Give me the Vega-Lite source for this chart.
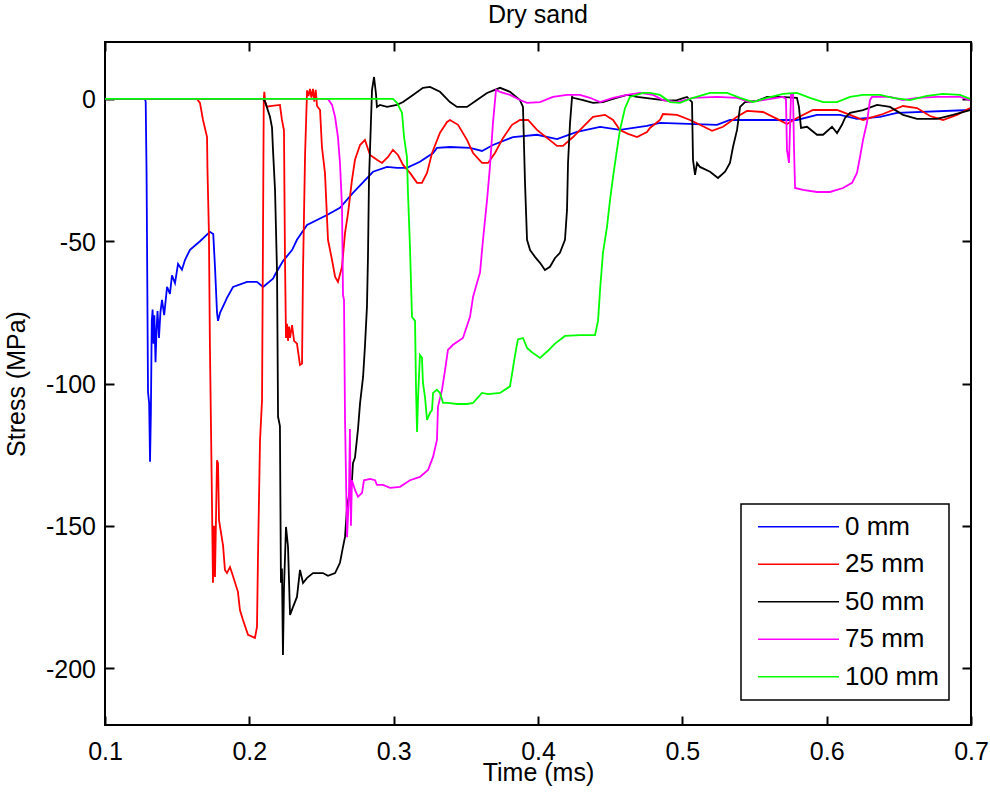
{
  "$schema": "https://vega.github.io/schema/vega-lite/v6.json",
  "width": 866,
  "height": 683,
  "autosize": {"type": "none"},
  "padding": {"left": 105, "top": 42, "right": 19, "bottom": 73},
  "title": {"text": "Dry sand", "font": "Liberation Sans", "fontSize": 25, "fontWeight": "normal", "color": "black", "anchor": "middle", "baseline": "alphabetic", "offset": -6.5},
  "data": {"values": [
    {"series":"0 mm","time":0.1000,"stress":0},{"series":"0 mm","time":0.1277,"stress":0},{"series":"0 mm","time":0.1282,"stress":-1},{"series":"0 mm","time":0.1288,"stress":-26},{"series":"0 mm","time":0.1298,"stress":-103},{"series":"0 mm","time":0.1306,"stress":-107},{"series":"0 mm","time":0.1312,"stress":-127.5},{"series":"0 mm","time":0.1318,"stress":-110},{"series":"0 mm","time":0.1324,"stress":-78},{"series":"0 mm","time":0.1330,"stress":-74},{"series":"0 mm","time":0.1336,"stress":-86},{"series":"0 mm","time":0.1342,"stress":-76},{"series":"0 mm","time":0.1350,"stress":-92.5},{"series":"0 mm","time":0.1357,"stress":-81},{"series":"0 mm","time":0.1364,"stress":-74.5},{"series":"0 mm","time":0.1374,"stress":-84},{"series":"0 mm","time":0.1384,"stress":-75},{"series":"0 mm","time":0.1395,"stress":-70.6},{"series":"0 mm","time":0.1410,"stress":-76},{"series":"0 mm","time":0.1430,"stress":-66},{"series":"0 mm","time":0.1450,"stress":-68.5},{"series":"0 mm","time":0.1464,"stress":-62},{"series":"0 mm","time":0.1485,"stress":-64.7},{"series":"0 mm","time":0.1506,"stress":-58},{"series":"0 mm","time":0.1533,"stress":-60},{"series":"0 mm","time":0.1554,"stress":-56.6},{"series":"0 mm","time":0.1589,"stress":-53},{"series":"0 mm","time":0.1658,"stress":-50},{"series":"0 mm","time":0.1727,"stress":-46.7},{"series":"0 mm","time":0.1750,"stress":-47.5},{"series":"0 mm","time":0.1762,"stress":-59},{"series":"0 mm","time":0.1776,"stress":-75},{"series":"0 mm","time":0.1783,"stress":-78},{"series":"0 mm","time":0.1797,"stress":-75.2},{"series":"0 mm","time":0.1831,"stress":-71.5},{"series":"0 mm","time":0.1845,"stress":-69.9},{"series":"0 mm","time":0.1887,"stress":-66.1},{"series":"0 mm","time":0.1984,"stress":-64.3},{"series":"0 mm","time":0.2053,"stress":-64.3},{"series":"0 mm","time":0.2095,"stress":-66.1},{"series":"0 mm","time":0.2164,"stress":-63.2},{"series":"0 mm","time":0.2178,"stress":-61.8},{"series":"0 mm","time":0.2233,"stress":-57},{"series":"0 mm","time":0.2296,"stress":-53.1},{"series":"0 mm","time":0.2330,"stress":-49.5},{"series":"0 mm","time":0.2400,"stress":-44.3},{"series":"0 mm","time":0.2538,"stress":-40.8},{"series":"0 mm","time":0.2628,"stress":-38.3},{"series":"0 mm","time":0.2718,"stress":-33.0},{"series":"0 mm","time":0.2857,"stress":-25.6},{"series":"0 mm","time":0.2954,"stress":-23.9},{"series":"0 mm","time":0.3023,"stress":-24.2},{"series":"0 mm","time":0.3092,"stress":-24.2},{"series":"0 mm","time":0.3182,"stress":-22.1},{"series":"0 mm","time":0.3273,"stress":-19.0},{"series":"0 mm","time":0.3300,"stress":-17.2},{"series":"0 mm","time":0.3390,"stress":-16.9},{"series":"0 mm","time":0.3529,"stress":-17.2},{"series":"0 mm","time":0.3612,"stress":-18.3},{"series":"0 mm","time":0.3688,"stress":-16.2},{"series":"0 mm","time":0.3827,"stress":-13.4},{"series":"0 mm","time":0.3993,"stress":-12.6},{"series":"0 mm","time":0.4132,"stress":-14.1},{"series":"0 mm","time":0.4270,"stress":-11.6},{"series":"0 mm","time":0.4430,"stress":-9.8},{"series":"0 mm","time":0.4568,"stress":-10.9},{"series":"0 mm","time":0.4755,"stress":-9.5},{"series":"0 mm","time":0.4845,"stress":-8.4},{"series":"0 mm","time":0.5240,"stress":-9.1},{"series":"0 mm","time":0.5330,"stress":-7.4},{"series":"0 mm","time":0.5794,"stress":-7.4},{"series":"0 mm","time":0.5933,"stress":-5.6},{"series":"0 mm","time":0.6092,"stress":-5.6},{"series":"0 mm","time":0.6210,"stress":-7.0},{"series":"0 mm","time":0.6370,"stress":-6.3},{"series":"0 mm","time":0.6487,"stress":-4.9},{"series":"0 mm","time":0.6993,"stress":-3.9},

    {"series":"25 mm","time":0.1000,"stress":0},{"series":"25 mm","time":0.1637,"stress":0},{"series":"25 mm","time":0.1658,"stress":-1.4},{"series":"25 mm","time":0.1679,"stress":-7.4},{"series":"25 mm","time":0.1707,"stress":-13.4},{"series":"25 mm","time":0.1710,"stress":-25},{"series":"25 mm","time":0.1720,"stress":-47},{"series":"25 mm","time":0.1727,"stress":-87},{"series":"25 mm","time":0.1741,"stress":-141},{"series":"25 mm","time":0.1748,"stress":-170},{"series":"25 mm","time":0.1755,"stress":-150},{"series":"25 mm","time":0.1762,"stress":-168},{"series":"25 mm","time":0.1776,"stress":-127},{"series":"25 mm","time":0.1783,"stress":-128},{"series":"25 mm","time":0.1790,"stress":-148},{"series":"25 mm","time":0.1818,"stress":-157},{"series":"25 mm","time":0.1831,"stress":-165.5},{"series":"25 mm","time":0.1845,"stress":-166.6},{"series":"25 mm","time":0.1866,"stress":-164.5},{"series":"25 mm","time":0.1880,"stress":-166.6},{"series":"25 mm","time":0.1921,"stress":-173.2},{"series":"25 mm","time":0.1935,"stress":-179.6},{"series":"25 mm","time":0.1956,"stress":-183.1},{"series":"25 mm","time":0.1991,"stress":-188.3},{"series":"25 mm","time":0.2039,"stress":-189.4},{"series":"25 mm","time":0.2053,"stress":-185.5},{"series":"25 mm","time":0.2060,"stress":-161},{"series":"25 mm","time":0.2074,"stress":-120},{"series":"25 mm","time":0.2088,"stress":-105.8},{"series":"25 mm","time":0.2095,"stress":-45},{"series":"25 mm","time":0.2100,"stress":0},{"series":"25 mm","time":0.2104,"stress":2.5},{"series":"25 mm","time":0.2110,"stress":-1},{"series":"25 mm","time":0.2122,"stress":-2.8},{"series":"25 mm","time":0.2143,"stress":-2.5},{"series":"25 mm","time":0.2212,"stress":-2.1},{"series":"25 mm","time":0.2226,"stress":-7.4},{"series":"25 mm","time":0.2240,"stress":-11},{"series":"25 mm","time":0.2247,"stress":-56},{"series":"25 mm","time":0.2254,"stress":-84},{"series":"25 mm","time":0.2261,"stress":-79},{"series":"25 mm","time":0.2268,"stress":-85},{"series":"25 mm","time":0.2275,"stress":-80},{"series":"25 mm","time":0.2282,"stress":-84},{"series":"25 mm","time":0.2296,"stress":-79.5},{"series":"25 mm","time":0.2310,"stress":-85},{"series":"25 mm","time":0.2330,"stress":-86},{"series":"25 mm","time":0.2351,"stress":-93.5},{"series":"25 mm","time":0.2365,"stress":-93},{"series":"25 mm","time":0.2372,"stress":-60},{"series":"25 mm","time":0.2386,"stress":-20},{"series":"25 mm","time":0.2400,"stress":3},{"series":"25 mm","time":0.2410,"stress":1},{"series":"25 mm","time":0.2420,"stress":3.5},{"series":"25 mm","time":0.2430,"stress":0.5},{"series":"25 mm","time":0.2441,"stress":3.5},{"series":"25 mm","time":0.2450,"stress":-1},{"series":"25 mm","time":0.2460,"stress":3.2},{"series":"25 mm","time":0.2469,"stress":-2.5},{"series":"25 mm","time":0.2490,"stress":-3.9},{"series":"25 mm","time":0.2503,"stress":-16.9},{"series":"25 mm","time":0.2524,"stress":-26},{"series":"25 mm","time":0.2545,"stress":-49.5},{"series":"25 mm","time":0.2573,"stress":-56.6},{"series":"25 mm","time":0.2594,"stress":-62.5},{"series":"25 mm","time":0.2614,"stress":-64.3},{"series":"25 mm","time":0.2642,"stress":-59},{"series":"25 mm","time":0.2663,"stress":-47.1},{"series":"25 mm","time":0.2684,"stress":-40.1},{"series":"25 mm","time":0.2711,"stress":-28.5},{"series":"25 mm","time":0.2732,"stress":-21.4},{"series":"25 mm","time":0.2767,"stress":-16.2},{"series":"25 mm","time":0.2801,"stress":-14.4},{"series":"25 mm","time":0.2836,"stress":-19.7},{"series":"25 mm","time":0.2884,"stress":-21.4},{"series":"25 mm","time":0.2919,"stress":-22.5},{"series":"25 mm","time":0.2940,"stress":-21.4},{"series":"25 mm","time":0.2961,"stress":-20.4},{"series":"25 mm","time":0.2995,"stress":-17.9},{"series":"25 mm","time":0.3030,"stress":-19.7},{"series":"25 mm","time":0.3065,"stress":-23.2},{"series":"25 mm","time":0.3113,"stress":-26},{"series":"25 mm","time":0.3162,"stress":-29.5},{"series":"25 mm","time":0.3196,"stress":-29.5},{"series":"25 mm","time":0.3231,"stress":-26},{"series":"25 mm","time":0.3266,"stress":-19},{"series":"25 mm","time":0.3321,"stress":-11.9},{"series":"25 mm","time":0.3370,"stress":-8.1},{"series":"25 mm","time":0.3390,"stress":-7.4},{"series":"25 mm","time":0.3446,"stress":-9.1},{"series":"25 mm","time":0.3508,"stress":-14.4},{"series":"25 mm","time":0.3550,"stress":-19.0},{"series":"25 mm","time":0.3612,"stress":-22.5},{"series":"25 mm","time":0.3654,"stress":-22.5},{"series":"25 mm","time":0.3702,"stress":-19.0},{"series":"25 mm","time":0.3758,"stress":-13.7},{"series":"25 mm","time":0.3820,"stress":-9.1},{"series":"25 mm","time":0.3875,"stress":-7.4},{"series":"25 mm","time":0.3931,"stress":-7.4},{"series":"25 mm","time":0.3993,"stress":-10.9},{"series":"25 mm","time":0.4062,"stress":-13.7},{"series":"25 mm","time":0.4132,"stress":-16.5},{"series":"25 mm","time":0.4173,"stress":-16.5},{"series":"25 mm","time":0.4243,"stress":-13.4},{"series":"25 mm","time":0.4312,"stress":-9.8},{"series":"25 mm","time":0.4381,"stress":-6.3},{"series":"25 mm","time":0.4464,"stress":-5.6},{"series":"25 mm","time":0.4520,"stress":-7.4},{"series":"25 mm","time":0.4568,"stress":-10.9},{"series":"25 mm","time":0.4624,"stress":-12.3},{"series":"25 mm","time":0.4686,"stress":-13.4},{"series":"25 mm","time":0.4755,"stress":-11.6},{"series":"25 mm","time":0.4776,"stress":-10.2},{"series":"25 mm","time":0.4845,"stress":-7.4},{"series":"25 mm","time":0.4866,"stress":-5.3},{"series":"25 mm","time":0.4963,"stress":-5.6},{"series":"25 mm","time":0.5053,"stress":-7.4},{"series":"25 mm","time":0.5122,"stress":-9.1},{"series":"25 mm","time":0.5206,"stress":-11.2},{"series":"25 mm","time":0.5282,"stress":-9.8},{"series":"25 mm","time":0.5379,"stress":-6.3},{"series":"25 mm","time":0.5448,"stress":-4.2},{"series":"25 mm","time":0.5559,"stress":-4.6},{"series":"25 mm","time":0.5656,"stress":-7.0},{"series":"25 mm","time":0.5725,"stress":-8.8},{"series":"25 mm","time":0.5794,"stress":-6.7},{"series":"25 mm","time":0.5905,"stress":-3.9},{"series":"25 mm","time":0.6072,"stress":-3.9},{"series":"25 mm","time":0.6162,"stress":-5.6},{"series":"25 mm","time":0.6252,"stress":-7.4},{"series":"25 mm","time":0.6390,"stress":-5.3},{"series":"25 mm","time":0.6529,"stress":-2.5},{"series":"25 mm","time":0.6626,"stress":-3.2},{"series":"25 mm","time":0.6716,"stress":-6.0},{"series":"25 mm","time":0.6806,"stress":-7.4},{"series":"25 mm","time":0.6903,"stress":-5.6},{"series":"25 mm","time":0.6993,"stress":-3.2},

    {"series":"50 mm","time":0.1000,"stress":0},{"series":"50 mm","time":0.2095,"stress":0},{"series":"50 mm","time":0.2109,"stress":-1},{"series":"50 mm","time":0.2143,"stress":-6.3},{"series":"50 mm","time":0.2157,"stress":-10},{"series":"50 mm","time":0.2164,"stress":-18},{"series":"50 mm","time":0.2178,"stress":-32},{"series":"50 mm","time":0.2192,"stress":-61.1},{"series":"50 mm","time":0.2199,"stress":-111.7},{"series":"50 mm","time":0.2212,"stress":-115},{"series":"50 mm","time":0.2219,"stress":-170},{"series":"50 mm","time":0.2226,"stress":-165},{"series":"50 mm","time":0.2233,"stress":-195.4},{"series":"50 mm","time":0.2240,"stress":-172},{"series":"50 mm","time":0.2254,"stress":-150.4},{"series":"50 mm","time":0.2268,"stress":-157.4},{"series":"50 mm","time":0.2282,"stress":-181.3},{"series":"50 mm","time":0.2303,"stress":-178.5},{"series":"50 mm","time":0.2330,"stress":-175.0},{"series":"50 mm","time":0.2351,"stress":-165.5},{"series":"50 mm","time":0.2372,"stress":-170.1},{"series":"50 mm","time":0.2400,"stress":-168.3},{"series":"50 mm","time":0.2441,"stress":-166.6},{"series":"50 mm","time":0.2510,"stress":-166.6},{"series":"50 mm","time":0.2545,"stress":-167.6},{"series":"50 mm","time":0.2594,"stress":-166.6},{"series":"50 mm","time":0.2628,"stress":-163.0},{"series":"50 mm","time":0.2649,"stress":-157.4},{"series":"50 mm","time":0.2663,"stress":-153.9},{"series":"50 mm","time":0.2677,"stress":-143.4},{"series":"50 mm","time":0.2697,"stress":-137.4},{"series":"50 mm","time":0.2711,"stress":-134},{"series":"50 mm","time":0.2718,"stress":-128},{"series":"50 mm","time":0.2732,"stress":-126},{"series":"50 mm","time":0.2753,"stress":-116},{"series":"50 mm","time":0.2767,"stress":-107},{"series":"50 mm","time":0.2788,"stress":-97.7},{"series":"50 mm","time":0.2801,"stress":-87},{"series":"50 mm","time":0.2815,"stress":-73},{"series":"50 mm","time":0.2822,"stress":-55.5},{"series":"50 mm","time":0.2829,"stress":-28.5},{"series":"50 mm","time":0.2850,"stress":3.2},{"series":"50 mm","time":0.2864,"stress":7.7},{"series":"50 mm","time":0.2877,"stress":2},{"series":"50 mm","time":0.2884,"stress":-2.8},{"series":"50 mm","time":0.2905,"stress":-2.1},{"series":"50 mm","time":0.2954,"stress":-2.8},{"series":"50 mm","time":0.3023,"stress":-2.1},{"series":"50 mm","time":0.3065,"stress":-1.1},{"series":"50 mm","time":0.3134,"stress":1.4},{"series":"50 mm","time":0.3203,"stress":3.9},{"series":"50 mm","time":0.3252,"stress":4.2},{"series":"50 mm","time":0.3321,"stress":2.5},{"series":"50 mm","time":0.3390,"stress":-1.1},{"series":"50 mm","time":0.3439,"stress":-2.8},{"series":"50 mm","time":0.3508,"stress":-2.8},{"series":"50 mm","time":0.3577,"stress":-0.4},{"series":"50 mm","time":0.3647,"stress":2.1},{"series":"50 mm","time":0.3737,"stress":3.9},{"series":"50 mm","time":0.3806,"stress":2.5},{"series":"50 mm","time":0.3875,"stress":-0.4},{"series":"50 mm","time":0.3896,"stress":-2.8},{"series":"50 mm","time":0.3910,"stress":-29.5},{"series":"50 mm","time":0.3924,"stress":-49.5},{"series":"50 mm","time":0.3945,"stress":-53.1},{"series":"50 mm","time":0.3979,"stress":-55.5},{"series":"50 mm","time":0.4014,"stress":-57.6},{"series":"50 mm","time":0.4048,"stress":-60.1},{"series":"50 mm","time":0.4083,"stress":-59.0},{"series":"50 mm","time":0.4118,"stress":-55.9},{"series":"50 mm","time":0.4152,"stress":-54.1},{"series":"50 mm","time":0.4187,"stress":-49.5},{"series":"50 mm","time":0.4201,"stress":-39.0},{"series":"50 mm","time":0.4208,"stress":-22.5},{"series":"50 mm","time":0.4222,"stress":-8.4},{"series":"50 mm","time":0.4236,"stress":0.7},{"series":"50 mm","time":0.4243,"stress":0.4},{"series":"50 mm","time":0.4312,"stress":-0.4},{"series":"50 mm","time":0.4381,"stress":-1.4},{"series":"50 mm","time":0.4450,"stress":-1.1},{"series":"50 mm","time":0.4520,"stress":0},{"series":"50 mm","time":0.4617,"stress":1.4},{"series":"50 mm","time":0.4686,"stress":0.7},{"series":"50 mm","time":0.4797,"stress":0},{"series":"50 mm","time":0.4894,"stress":-0.6},{"series":"50 mm","time":0.4963,"stress":-0.4},{"series":"50 mm","time":0.5032,"stress":0.7},{"series":"50 mm","time":0.5067,"stress":-1.1},{"series":"50 mm","time":0.5074,"stress":-21.4},{"series":"50 mm","time":0.5088,"stress":-26.7},{"series":"50 mm","time":0.5102,"stress":-22.5},{"series":"50 mm","time":0.5122,"stress":-23.9},{"series":"50 mm","time":0.5192,"stress":-25.6},{"series":"50 mm","time":0.5247,"stress":-27.8},{"series":"50 mm","time":0.5296,"stress":-25.6},{"series":"50 mm","time":0.5330,"stress":-22.5},{"series":"50 mm","time":0.5351,"stress":-16.9},{"series":"50 mm","time":0.5379,"stress":-10.9},{"series":"50 mm","time":0.5400,"stress":-2.8},{"series":"50 mm","time":0.5434,"stress":-1.1},{"series":"50 mm","time":0.5517,"stress":-0.7},{"series":"50 mm","time":0.5587,"stress":0.7},{"series":"50 mm","time":0.5677,"stress":0.7},{"series":"50 mm","time":0.5794,"stress":0.4},{"series":"50 mm","time":0.5808,"stress":-2.8},{"series":"50 mm","time":0.5822,"stress":-10.2},{"series":"50 mm","time":0.5864,"stress":-9.8},{"series":"50 mm","time":0.5933,"stress":-12.6},{"series":"50 mm","time":0.5975,"stress":-12.6},{"series":"50 mm","time":0.6037,"stress":-9.8},{"series":"50 mm","time":0.6072,"stress":-12.0},{"series":"50 mm","time":0.6106,"stress":-9.1},{"series":"50 mm","time":0.6127,"stress":-6.7},{"series":"50 mm","time":0.6162,"stress":-4.9},{"series":"50 mm","time":0.6252,"stress":-3.9},{"series":"50 mm","time":0.6349,"stress":-2.1},{"series":"50 mm","time":0.6439,"stress":-2.8},{"series":"50 mm","time":0.6529,"stress":-5.6},{"series":"50 mm","time":0.6626,"stress":-7.0},{"series":"50 mm","time":0.6764,"stress":-7.0},{"series":"50 mm","time":0.6875,"stress":-5.6},{"series":"50 mm","time":0.6993,"stress":-3.9},

    {"series":"75 mm","time":0.1000,"stress":0},{"series":"75 mm","time":0.2545,"stress":0},{"series":"75 mm","time":0.2573,"stress":-2.1},{"series":"75 mm","time":0.2594,"stress":-6.3},{"series":"75 mm","time":0.2614,"stress":-13.4},{"series":"75 mm","time":0.2628,"stress":-22.5},{"series":"75 mm","time":0.2642,"stress":-37.9},{"series":"75 mm","time":0.2649,"stress":-69},{"series":"75 mm","time":0.2656,"stress":-70.6},{"series":"75 mm","time":0.2663,"stress":-112.8},{"series":"75 mm","time":0.2677,"stress":-154},{"series":"75 mm","time":0.2690,"stress":-140},{"series":"75 mm","time":0.2697,"stress":-116},{"series":"75 mm","time":0.2704,"stress":-150},{"series":"75 mm","time":0.2711,"stress":-134},{"series":"75 mm","time":0.2732,"stress":-137.4},{"series":"75 mm","time":0.2753,"stress":-139.8},{"series":"75 mm","time":0.2781,"stress":-138.4},{"series":"75 mm","time":0.2794,"stress":-134},{"series":"75 mm","time":0.2836,"stress":-133.5},{"series":"75 mm","time":0.2871,"stress":-134},{"series":"75 mm","time":0.2884,"stress":-135.6},{"series":"75 mm","time":0.2926,"stress":-135.6},{"series":"75 mm","time":0.2975,"stress":-136.7},{"series":"75 mm","time":0.3044,"stress":-136.3},{"series":"75 mm","time":0.3113,"stress":-134},{"series":"75 mm","time":0.3182,"stress":-132.8},{"series":"75 mm","time":0.3238,"stress":-130.4},{"series":"75 mm","time":0.3273,"stress":-125.8},{"series":"75 mm","time":0.3300,"stress":-119.8},{"series":"75 mm","time":0.3307,"stress":-108.2},{"series":"75 mm","time":0.3335,"stress":-102.2},{"series":"75 mm","time":0.3356,"stress":-95.3},{"series":"75 mm","time":0.3376,"stress":-88.2},{"series":"75 mm","time":0.3411,"stress":-86.4},{"series":"75 mm","time":0.3480,"stress":-84},{"series":"75 mm","time":0.3529,"stress":-76.6},{"series":"75 mm","time":0.3550,"stress":-69.6},{"series":"75 mm","time":0.3577,"stress":-64.7},{"series":"75 mm","time":0.3598,"stress":-61.1},{"series":"75 mm","time":0.3619,"stress":-49.5},{"series":"75 mm","time":0.3647,"stress":-35.5},{"series":"75 mm","time":0.3667,"stress":-23.9},{"series":"75 mm","time":0.3688,"stress":-8.4},{"series":"75 mm","time":0.3709,"stress":3.2},{"series":"75 mm","time":0.3737,"stress":2.5},{"series":"75 mm","time":0.3806,"stress":1.4},{"series":"75 mm","time":0.3875,"stress":-0.4},{"series":"75 mm","time":0.3924,"stress":-1.4},{"series":"75 mm","time":0.4014,"stress":-1.1},{"series":"75 mm","time":0.4104,"stress":0.7},{"series":"75 mm","time":0.4201,"stress":1.4},{"series":"75 mm","time":0.4291,"stress":1.4},{"series":"75 mm","time":0.4360,"stress":0.4},{"series":"75 mm","time":0.4430,"stress":-1.1},{"series":"75 mm","time":0.4520,"stress":0.4},{"series":"75 mm","time":0.4617,"stress":1.4},{"series":"75 mm","time":0.4707,"stress":2.1},{"series":"75 mm","time":0.4797,"stress":1.4},{"series":"75 mm","time":0.4866,"stress":-0.4},{"series":"75 mm","time":0.4963,"stress":-1.1},{"series":"75 mm","time":0.5074,"stress":0.4},{"series":"75 mm","time":0.5240,"stress":0.7},{"series":"75 mm","time":0.5379,"stress":0.4},{"series":"75 mm","time":0.5469,"stress":-1.1},{"series":"75 mm","time":0.5559,"stress":-0.4},{"series":"75 mm","time":0.5697,"stress":0.7},{"series":"75 mm","time":0.5718,"stress":0},{"series":"75 mm","time":0.5725,"stress":-17.9},{"series":"75 mm","time":0.5739,"stress":-22.5},{"series":"75 mm","time":0.5753,"stress":1.4},{"series":"75 mm","time":0.5767,"stress":1.4},{"series":"75 mm","time":0.5774,"stress":-17.9},{"series":"75 mm","time":0.5781,"stress":-31.3},{"series":"75 mm","time":0.5836,"stress":-32},{"series":"75 mm","time":0.5933,"stress":-32.7},{"series":"75 mm","time":0.6023,"stress":-32.7},{"series":"75 mm","time":0.6113,"stress":-31.3},{"series":"75 mm","time":0.6176,"stress":-29.5},{"series":"75 mm","time":0.6210,"stress":-26},{"series":"75 mm","time":0.6231,"stress":-20.4},{"series":"75 mm","time":0.6252,"stress":-14.4},{"series":"75 mm","time":0.6279,"stress":-8.4},{"series":"75 mm","time":0.6300,"stress":-0.4},{"series":"75 mm","time":0.6314,"stress":0.7},{"series":"75 mm","time":0.6439,"stress":0.7},{"series":"75 mm","time":0.6529,"stress":-0.4},{"series":"75 mm","time":0.6626,"stress":0.4},{"series":"75 mm","time":0.6764,"stress":0.7},{"series":"75 mm","time":0.6924,"stress":0.7},{"series":"75 mm","time":0.6993,"stress":-0.4},

    {"series":"100 mm","time":0.1000,"stress":0},{"series":"100 mm","time":0.2995,"stress":0},{"series":"100 mm","time":0.3023,"stress":-1.4},{"series":"100 mm","time":0.3058,"stress":-4.9},{"series":"100 mm","time":0.3072,"stress":-13.4},{"series":"100 mm","time":0.3092,"stress":-20.4},{"series":"100 mm","time":0.3099,"stress":-33},{"series":"100 mm","time":0.3113,"stress":-52},{"series":"100 mm","time":0.3127,"stress":-76.6},{"series":"100 mm","time":0.3148,"stress":-78},{"series":"100 mm","time":0.3155,"stress":-102.2},{"series":"100 mm","time":0.3162,"stress":-117},{"series":"100 mm","time":0.3169,"stress":-105},{"series":"100 mm","time":0.3182,"stress":-90},{"series":"100 mm","time":0.3196,"stress":-91},{"series":"100 mm","time":0.3203,"stress":-99.8},{"series":"100 mm","time":0.3217,"stress":-104.7},{"series":"100 mm","time":0.3231,"stress":-112.8},{"series":"100 mm","time":0.3252,"stress":-110.3},{"series":"100 mm","time":0.3266,"stress":-109.3},{"series":"100 mm","time":0.3273,"stress":-103.3},{"series":"100 mm","time":0.3300,"stress":-102.2},{"series":"100 mm","time":0.3321,"stress":-103.3},{"series":"100 mm","time":0.3342,"stress":-106.8},{"series":"100 mm","time":0.3376,"stress":-106.8},{"series":"100 mm","time":0.3439,"stress":-107.2},{"series":"100 mm","time":0.3508,"stress":-107.2},{"series":"100 mm","time":0.3550,"stress":-106.8},{"series":"100 mm","time":0.3612,"stress":-103.3},{"series":"100 mm","time":0.3654,"stress":-103.7},{"series":"100 mm","time":0.3737,"stress":-103.3},{"series":"100 mm","time":0.3806,"stress":-101},{"series":"100 mm","time":0.3841,"stress":-90},{"series":"100 mm","time":0.3861,"stress":-84.5},{"series":"100 mm","time":0.3896,"stress":-84},{"series":"100 mm","time":0.3924,"stress":-87.5},{"series":"100 mm","time":0.3958,"stress":-89},{"series":"100 mm","time":0.4014,"stress":-91},{"series":"100 mm","time":0.4069,"stress":-88.5},{"series":"100 mm","time":0.4118,"stress":-86},{"series":"100 mm","time":0.4187,"stress":-83.3},{"series":"100 mm","time":0.4291,"stress":-83},{"series":"100 mm","time":0.4395,"stress":-83},{"series":"100 mm","time":0.4416,"stress":-78},{"series":"100 mm","time":0.4430,"stress":-67.1},{"series":"100 mm","time":0.4450,"stress":-54.1},{"series":"100 mm","time":0.4478,"stress":-45},{"series":"100 mm","time":0.4499,"stress":-35.5},{"series":"100 mm","time":0.4520,"stress":-27.4},{"series":"100 mm","time":0.4547,"stress":-17.9},{"series":"100 mm","time":0.4568,"stress":-10.9},{"series":"100 mm","time":0.4603,"stress":-3.2},{"series":"100 mm","time":0.4637,"stress":0.7},{"series":"100 mm","time":0.4728,"stress":2.1},{"series":"100 mm","time":0.4776,"stress":2.1},{"series":"100 mm","time":0.4845,"stress":1.4},{"series":"100 mm","time":0.4915,"stress":-1.1},{"series":"100 mm","time":0.4984,"stress":-1.4},{"series":"100 mm","time":0.5074,"stress":0.4},{"series":"100 mm","time":0.5192,"stress":2.1},{"series":"100 mm","time":0.5310,"stress":2.1},{"series":"100 mm","time":0.5400,"stress":0.4},{"series":"100 mm","time":0.5490,"stress":-1.1},{"series":"100 mm","time":0.5587,"stress":0.4},{"series":"100 mm","time":0.5697,"stress":1.8},{"series":"100 mm","time":0.5794,"stress":2.1},{"series":"100 mm","time":0.5884,"stress":0.4},{"series":"100 mm","time":0.5975,"stress":-1.1},{"series":"100 mm","time":0.6072,"stress":-1.1},{"series":"100 mm","time":0.6162,"stress":0.7},{"series":"100 mm","time":0.6252,"stress":1.4},{"series":"100 mm","time":0.6370,"stress":1.4},{"series":"100 mm","time":0.6460,"stress":0.4},{"series":"100 mm","time":0.6577,"stress":-0.4},{"series":"100 mm","time":0.6695,"stress":1.1},{"series":"100 mm","time":0.6806,"stress":1.8},{"series":"100 mm","time":0.6924,"stress":1.4},{"series":"100 mm","time":0.6993,"stress":0}
  ]},
  "layer": [
    {
      "mark": {"type": "line", "strokeWidth": 1.8, "clip": true},
      "encoding": {
        "x": {"field": "time", "type": "quantitative", "scale": {"domain": [0.1, 0.7], "nice": false, "zero": false},
              "axis": {"orient": "bottom", "values": [0.1, 0.2, 0.3, 0.4, 0.5, 0.6, 0.7], "format": ".1f", "title": "Time (ms)", "titleX": 433, "titleY": 55, "titleAlign": "center", "titleBaseline": "alphabetic", "labelPadding": 23}},
        "y": {"field": "stress", "type": "quantitative", "scale": {"domain": [-220, 20], "nice": false, "zero": false},
              "axis": {"orient": "left", "values": [-200, -150, -100, -50, 0], "labelExpr": "'' + datum.value", "labelOffset": 1, "title": "Stress (MPa)", "titleAngle": 270, "titleX": -81, "titleY": 341.5, "titleAlign": "center", "titleBaseline": "alphabetic", "labelPadding": 18.5}},
        "color": {"field": "series", "type": "nominal", "sort": null,
                  "scale": {"domain": ["0 mm", "25 mm", "50 mm", "75 mm", "100 mm"], "range": ["#0000ff", "#ff0000", "#000000", "#ff00ff", "#00ff00"]},
                  "legend": {"orient": "none", "legendX": 636, "legendY": 462, "title": null, "symbolType": "stroke", "symbolSize": 6561, "symbolStrokeWidth": 1.3, "labelFont": "Liberation Sans", "labelFontSize": 26, "labelColor": "black", "labelOffset": 5, "padding": 10, "symbolOffset": 6, "clipHeight": 25.5, "rowPadding": 10.5, "strokeColor": "black", "fillColor": "white"}}
      }
    },
    {
      "mark": {"type": "point", "opacity": 0},
      "encoding": {
        "x": {"field": "time", "type": "quantitative", "axis": {"orient": "top", "values": [0.1, 0.2, 0.3, 0.4, 0.5, 0.6, 0.7], "labels": false, "title": null}},
        "y": {"field": "stress", "type": "quantitative", "axis": {"orient": "right", "values": [-200, -150, -100, -50, 0], "labels": false, "title": null}}
      }
    }
  ],
  "resolve": {"axis": {"x": "independent", "y": "independent"}},
  "config": {
    "view": {"stroke": "black", "strokeWidth": 2},
    "axis": {"domain": false, "grid": false, "tickSize": -9, "tickWidth": 2, "tickColor": "black", "labelFont": "Liberation Sans", "labelFontSize": 25, "labelColor": "black", "labelFlush": false, "labelOverlap": false, "labelBound": false, "titleFont": "Liberation Sans", "titleFontSize": 25, "titleFontWeight": "normal", "titleColor": "black"},
    "legend": {"strokeWidth": 1.5}
  }
}
